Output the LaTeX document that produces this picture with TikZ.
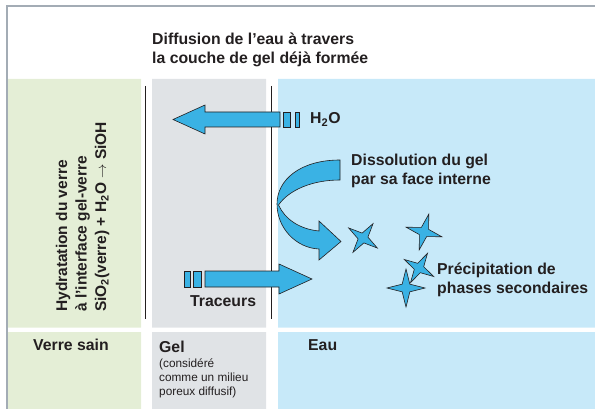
\documentclass[tikz,border=0pt]{standalone}
\usepackage{fontspec}
\setmainfont{Liberation Sans}
\usetikzlibrary{shapes.geometric}
\definecolor{glassGreen}{HTML}{E4EED6}
\definecolor{gelGray}{HTML}{E0E3E6}
\definecolor{waterBlue}{HTML}{C7E9F9}
\definecolor{flowBlue}{HTML}{3AB2E4}
\definecolor{frameGray}{HTML}{A3ACB5}
\definecolor{inkDark}{HTML}{231F20}

\begin{document}
\begin{tikzpicture}[x=1pt,y=-1pt,
 lbl/.style={font=\bfseries\fontsize{15.8}{19}\selectfont,text=inkDark,
   inner sep=0pt,align=left,anchor=base west},
 note/.style={font=\fontsize{11.8}{14}\selectfont,text=inkDark,
   inner sep=0pt,align=left,anchor=base west},
 flow/.style={fill=flowBlue,draw=inkDark,line width=0.6pt,line join=miter},
 crystal/.style={star,star points=4,star point ratio=3.5,fill=flowBlue,
   draw=inkDark,line width=0.6pt,inner sep=0pt,minimum size=36pt},
 divider/.style={draw=inkDark,line width=1pt}]
\useasboundingbox (0,0) rectangle (595,409);
% zones
\fill[glassGreen] (8,79) rectangle (141,327.5) (8,332) rectangle (141,409);
\fill[gelGray] (152,79) rectangle (266,327.5) (152,332) rectangle (266,409);
\fill[waterBlue] (278,79) rectangle (595,327.5) (278,332) rectangle (595,409);
\draw[frameGray,line width=1.1pt] (7,409) -- (7,6) -- (595,6);
\draw[divider] (145.5,86) -- (145.5,319);
\draw[divider] (271.5,86) -- (271.5,319);
% texts (multi-line nodes sit on their last baseline)
\node[lbl] (title) at (152,64) {Diffusion de l’eau à travers\\la couche de gel déjà formée};
\node[lbl] (h2o) at (310,124) {H\textsubscript{2}O};
\node[lbl] (dissolution) at (351,184.5) {Dissolution du gel\\par sa face interne};
\node[lbl] (precipitation) at (437,293) {Précipitation de\\phases secondaires};
\node[lbl] (traceurs) at (190,306) {Traceurs};
\node[lbl,rotate=90,font=\bfseries\fontsize{15.5}{19.5}\selectfont] (hydration) at (106,312)
  {Hydratation du verre\\à l’interface gel-verre\\SiO\textsubscript{2}(verre) + H\textsubscript{2}O $\rightarrow$ SiOH};
\node[lbl] (verre) at (33,350) {Verre sain};
\node[lbl] (gel) at (159,352) {Gel};
\node[note] (gelnote) at (159,395) {(considéré\\comme un milieu\\poreux diffusif)};
\node[lbl] (eau) at (308,350) {Eau};
% water entering the gel
\draw[flow] (280,112) -- (205,112) -- (205,105) -- (173,119.5) -- (205,134)
  -- (205,127) -- (280,127) -- cycle;
\draw[flow] (283,112) rectangle (290.5,127);
\draw[flow] (295,112) rectangle (299,127);
% tracers leaving the gel
\draw[flow] (184,271) rectangle (190,287);
\draw[flow] (193,271) rectangle (201.5,287);
\draw[flow] (205,271) -- (279,271) -- (279,264) -- (312,279) -- (279,294)
  -- (279,287) -- (205,287) -- cycle;
% dissolution
\draw[flow] (340,160) .. controls (300,160) and (277,180) .. (277,204)
  .. controls (277,228) and (296,248) .. (319,249) -- (319,260) -- (341,241.5)
  -- (319,221) -- (319,231) .. controls (299,229) and (285,219) .. (278.5,205)
  .. controls (289,190) and (312,180) .. (340,180) -- cycle;
% precipitates
\node[crystal,rotate=-35,minimum size=35pt] (xtal1) at (363,238) {};
\node[crystal,rotate=-15,minimum size=37pt] (xtal2) at (424,232) {};
\node[crystal,minimum size=38pt] (xtal4) at (406,288) {};
\node[crystal,rotate=-30,minimum size=34pt] (xtal3) at (419,268) {};
\end{tikzpicture}
\end{document}
